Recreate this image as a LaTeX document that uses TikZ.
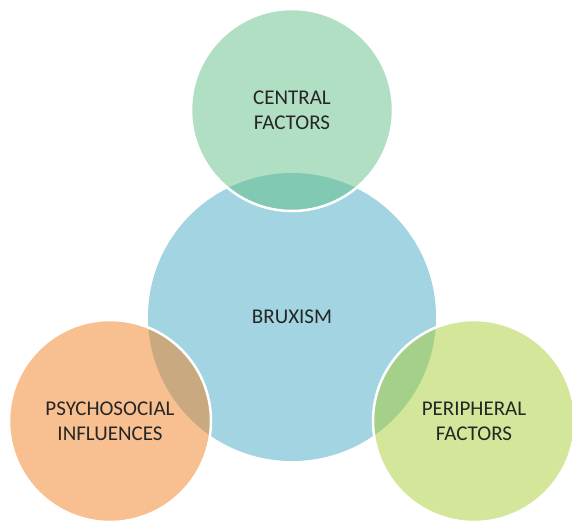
\documentclass[tikz,border=0pt]{standalone}
\usepackage{fontspec}
\setmainfont{Carlito}
\definecolor{bruxblue}{RGB}{162,212,225}
\definecolor{centralgreen}{RGB}{99,191,137}
\definecolor{psychoorange}{RGB}{241,129,33}
\definecolor{periphlime}{RGB}{167,205,53}
\definecolor{labelgray}{RGB}{38,38,38}
\tikzset{
	factor/.style={circle, minimum size=202pt, inner sep=0pt, draw=white,
		line width=2.5pt, fill opacity=0.5, text opacity=1, align=center,
		text=labelgray, font=\fontsize{21}{25}\selectfont},
	core/.style={circle, minimum size=288pt, inner sep=0pt, fill=bruxblue,
		text=labelgray, font=\fontsize{21}{25}\selectfont}
}
\begin{document}
\begin{tikzpicture}[x=1pt, y=-1pt]
	\useasboundingbox (0,0) rectangle (572,523);
	% Mitte
	\node[core] (bruxism) at (292,317) {BRUXISM};
	% Faktoren
	\node[factor, fill=centralgreen] (central) at (292,110) {CENTRAL\\FACTORS};
	\node[factor, fill=psychoorange] (psycho) at (110,421) {PSYCHOSOCIAL\\INFLUENCES};
	\node[factor, fill=periphlime] (peripheral) at (474,421) {PERIPHERAL\\FACTORS};
\end{tikzpicture}
\end{document}
